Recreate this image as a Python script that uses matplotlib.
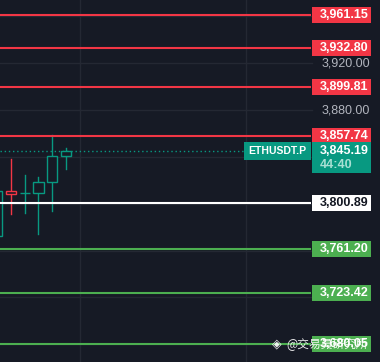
import numpy as np
import matplotlib.pyplot as plt
from matplotlib.patches import Rectangle

plt.rcParams['font.family'] = ['Liberation Sans', 'DejaVu Sans', 'Noto Sans CJK SC']

# =============================================================================
# DATOS
# =============================================================================

opens  = [3772.0, 3811.2, 3809.2, 3809.2, 3818.6, 3840.8]
closes = [3811.2, 3808.4, 3809.2, 3818.6, 3840.8, 3845.19]
highs  = [3815.0, 3838.4, 3824.8, 3823.1, 3858.3, 3847.8]
lows   = [3768.0, 3791.0, 3791.8, 3774.0, 3793.6, 3829.3]

red_levels = [3961.15, 3932.80, 3899.81, 3857.74]
white_levels = [3800.89]
green_levels = [3761.20, 3723.42, 3680.05]

last_price = 3845.19
countdown = '44:40'
symbol = 'ETHUSDT.P'
price_ticks = [3960, 3920, 3880, 3840, 3800, 3760, 3720, 3680]
watermark = '@交易員研究所'

# =============================================================================
# ESTILO
# =============================================================================

bg = '#161a25'
up_c = '#089981'
dn_c = '#f23645'
lvl_green = '#4caf50'
grid_c = '#242833'
tick_c = '#b2b5be'

px_per_unit = 1.171          # pixeles por dólar
box_h = 16 / px_per_unit     # alto de etiqueta en dólares
W = 380.0

fig = plt.figure(figsize=(3.8, 3.62), dpi=100, facecolor=bg)
ax = fig.add_axes([0, 0, 1, 1])
ax.set_facecolor(bg)
ax.set_xlim(0.217, 27.69)
ax.set_ylim(3961.15 - 347 / px_per_unit, 3961.15 + 15 / px_per_unit)
ax.axis('off')
trans = ax.get_yaxis_transform()

all_levels = red_levels + white_levels + green_levels + [last_price - 6]

# rejilla
for t in price_ticks:
    ax.plot([0, 312 / W], [t, t], color=grid_c, lw=1, transform=trans, zorder=0)
for gx in [6, 18]:
    ax.axvline(gx, color=grid_c, lw=1, zorder=0)

# etiquetas del eje de precios (las tapadas por una etiqueta no se dibujan)
for t in price_ticks:
    if min(abs(t - lv) for lv in all_levels) < 0.6 * box_h:
        continue
    ax.text(346 / W, t, f'{t:,.2f}', transform=trans, color=tick_c,
            fontsize=9, ha='center', va='center', zorder=1)

# velas huecas
body_w = 0.73
for i in range(len(opens)):
    o, c, h, l = opens[i], closes[i], highs[i], lows[i]
    col = up_c if c >= o else dn_c
    ax.plot([i, i], [l, h], color=col, lw=1, zorder=3)
    lo, hi = min(o, c), max(o, c)
    ax.add_patch(Rectangle((i - body_w / 2, lo), body_w, hi - lo,
                           facecolor=bg, edgecolor=col, lw=1, zorder=4))


def level(y, line_c, box_c, txt_c):
    ax.plot([0, 311 / W], [y, y], color=line_c, lw=1.5, transform=trans,
            zorder=5, solid_capstyle='butt')
    ax.add_patch(Rectangle((312 / W, y - box_h / 2), 59 / W, box_h,
                           transform=trans, facecolor=box_c, lw=0, zorder=6))
    ax.text(344 / W, y, f'{y:,.2f}', transform=trans, color=txt_c,
            fontsize=9, fontweight='bold', ha='center', va='center', zorder=7)


for y in red_levels:
    level(y, dn_c, dn_c, 'white')
for y in white_levels:
    level(y, 'white', 'white', '#131722')
for y in green_levels:
    level(y, lvl_green, lvl_green, 'white')

# precio actual
ax.plot([0, 244 / W], [last_price, last_price], color=up_c, lw=1,
        linestyle=(0, (1, 2)), transform=trans, zorder=2)
ax.add_patch(Rectangle((244 / W, last_price - 9 / px_per_unit), 67 / W,
                       18 / px_per_unit, transform=trans, facecolor=up_c,
                       lw=0, zorder=6))
ax.text(277.5 / W, last_price, symbol, transform=trans, color='white',
        fontsize=7.5, fontweight='bold', ha='center', va='center', zorder=7)
ax.add_patch(Rectangle((312 / W, last_price - 22 / px_per_unit), 59 / W,
                       31 / px_per_unit, transform=trans, facecolor=up_c,
                       lw=0, zorder=6))
ax.text(344 / W, last_price, f'{last_price:,.2f}', transform=trans,
        color='white', fontsize=9, fontweight='bold', ha='center',
        va='center', zorder=7)
ax.text(336 / W, last_price - 14 / px_per_unit, countdown, transform=trans,
        color='#a8e0d4', fontsize=9, fontweight='bold', ha='center',
        va='center', zorder=7)

# marca de agua
ax.text(272 / W, 3680.05, '◈', transform=trans, color='white',
        alpha=0.9, fontsize=9, family='DejaVu Sans', ha='left', va='center',
        zorder=8)
ax.text(286 / W, 3680.05, watermark, transform=trans, color='white',
        alpha=0.9, fontsize=8.5, family=['Noto Sans CJK SC', 'DejaVu Sans'],
        ha='left', va='center', zorder=8)

plt.savefig('out.png', dpi=100, facecolor=bg)
